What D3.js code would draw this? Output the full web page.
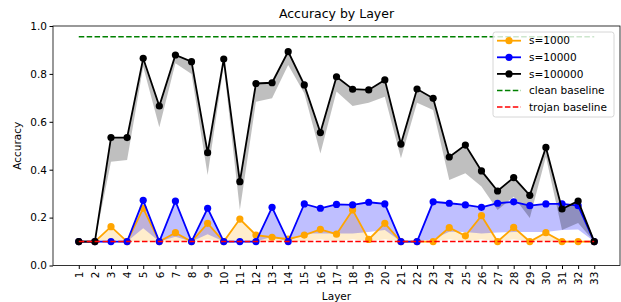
<!DOCTYPE html>
<html>
<head>
<meta charset="utf-8">
<script src="https://cdn.jsdelivr.net/npm/d3@7"></script>
<style>
  body { margin: 0; background: #fff; }
  text { font-family: "DejaVu Sans", sans-serif; fill: #000; }
</style>
</head>
<body>
<div id="chart-area"></div>
<script>
// layers 1..33
var layers = d3.range(1, 34);

// s=1000 (orange)
var s1000 = [0.10, 0.10, 0.162, 0.10, 0.239, 0.10, 0.137, 0.10, 0.176, 0.10, 0.194,
             0.127, 0.118, 0.11, 0.127, 0.151, 0.131, 0.232, 0.109, 0.176, 0.10, 0.10,
             0.10, 0.158, 0.124, 0.208, 0.10, 0.159, 0.10, 0.137, 0.10, 0.10, 0.10];
var s1000Lo = [0.10, 0.10, 0.11, 0.10, 0.10, 0.10, 0.10, 0.10, 0.11, 0.10, 0.11,
               0.10, 0.10, 0.10, 0.10, 0.11, 0.10, 0.11, 0.10, 0.11, 0.10, 0.10,
               0.10, 0.11, 0.10, 0.11, 0.10, 0.11, 0.10, 0.10, 0.10, 0.10, 0.10];

// s=10000 (blue)
var s10000 = [0.10, 0.10, 0.10, 0.10, 0.272, 0.10, 0.269, 0.10, 0.239, 0.10, 0.10,
              0.10, 0.243, 0.10, 0.257, 0.239, 0.255, 0.253, 0.264, 0.257, 0.10, 0.10,
              0.266, 0.26, 0.253, 0.243, 0.26, 0.266, 0.25, 0.257, 0.257, 0.25, 0.10];
var s10000Lo = [0.10, 0.10, 0.10, 0.10, 0.156, 0.10, 0.12, 0.10, 0.13, 0.10, 0.10,
                0.10, 0.12, 0.10, 0.134, 0.134, 0.134, 0.134, 0.14, 0.148, 0.10, 0.10,
                0.11, 0.141, 0.14, 0.134, 0.138, 0.14, 0.14, 0.14, 0.148, 0.15, 0.10];

// s=100000 (black)
var s100000 = [0.10, 0.10, 0.534, 0.534, 0.865, 0.666, 0.879, 0.851, 0.471, 0.862, 0.35,
               0.76, 0.763, 0.893, 0.754, 0.555, 0.788, 0.736, 0.733, 0.775, 0.507, 0.737,
               0.698, 0.453, 0.503, 0.395, 0.311, 0.367, 0.293, 0.493, 0.236, 0.269, 0.10];
var s100000Lo = [0.10, 0.10, 0.433, 0.44, 0.83, 0.577, 0.844, 0.80, 0.378, 0.835, 0.232,
                 0.684, 0.698, 0.837, 0.719, 0.468, 0.726, 0.666, 0.68, 0.705, 0.448, 0.68,
                 0.649, 0.357, 0.385, 0.33, 0.232, 0.287, 0.198, 0.454, 0.148, 0.177, 0.10];

var cleanBaseline = 0.955;
var trojanBaseline = 0.10;
var yTicks = [0.0, 0.2, 0.4, 0.6, 0.8, 1.0];

var series = [
  {name: "s=1000", color: "orange", fill: "rgba(255,165,0,0.2)", v: s1000, lo: s1000Lo},
  {name: "s=10000", color: "blue", fill: "rgba(0,0,255,0.25)", v: s10000, lo: s10000Lo},
  {name: "s=100000", color: "black", fill: "rgba(0,0,0,0.25)", v: s100000, lo: s100000Lo}
];

var W = 621, H = 302;
var mLeft = 53, mRight = 620, mTop = 26, mBottom = 265.5;

var svg = d3.select("#chart-area")
  .append("svg")
    .attr("width", W)
    .attr("height", H);

var x = d3.scaleLinear().domain([1 - 1.6, 33 + 1.6]).range([mLeft, mRight]);
var y = d3.scaleLinear().domain([0, 1]).range([mBottom, mTop]);

// bands first (matplotlib collections sit under lines)
series.forEach(function(s) {
  var area = d3.area()
    .x(function(d, i) { return x(layers[i]); })
    .y0(function(d, i) { return y(s.lo[i]); })
    .y1(function(d) { return y(d); });
  svg.append("path")
    .datum(s.v)
    .attr("d", area)
    .attr("fill", s.fill);
});

// lines + markers
series.forEach(function(s) {
  var line = d3.line()
    .x(function(d, i) { return x(layers[i]); })
    .y(function(d) { return y(d); });
  svg.append("path")
    .datum(s.v)
    .attr("d", line)
    .attr("fill", "none")
    .attr("stroke", s.color)
    .attr("stroke-width", 1.8);
  svg.append("g").selectAll("circle").data(s.v)
    .enter().append("circle")
      .attr("cx", function(d, i) { return x(layers[i]); })
      .attr("cy", function(d) { return y(d); })
      .attr("r", 3.6)
      .attr("fill", s.color);
});

// baselines
var baselines = [
  {name: "clean baseline", color: "green", v: cleanBaseline},
  {name: "trojan baseline", color: "red", v: trojanBaseline}
];
baselines.forEach(function(b) {
  svg.append("line")
    .attr("x1", x(1)).attr("x2", x(33))
    .attr("y1", y(b.v)).attr("y2", y(b.v))
    .attr("stroke", b.color)
    .attr("stroke-width", 1.5)
    .attr("stroke-dasharray", "5.5,2.4");
});

// frame
svg.append("rect")
  .attr("x", mLeft).attr("y", mTop)
  .attr("width", mRight - mLeft).attr("height", mBottom - mTop)
  .attr("fill", "none")
  .attr("stroke", "#000")
  .attr("stroke-width", 0.8);

// y axis
var yAxis = d3.axisLeft(y).tickValues(yTicks).tickFormat(d3.format(".1f")).tickSize(3.5).tickSizeOuter(0);
var gy = svg.append("g")
  .attr("transform", "translate(" + mLeft + ",0)")
  .call(yAxis);
gy.select(".domain").remove();
gy.selectAll("text").attr("font-size", "10.5px").attr("font-family", "DejaVu Sans").attr("x", -6);

// x axis
var xAxis = d3.axisBottom(x).tickValues(layers).tickFormat(d3.format("d")).tickSize(3.5).tickSizeOuter(0);
var gx = svg.append("g")
  .attr("transform", "translate(0," + mBottom + ")")
  .call(xAxis);
gx.select(".domain").remove();
gx.selectAll("text")
  .attr("font-size", "10.5px")
  .attr("font-family", "DejaVu Sans")
  .attr("text-anchor", "end")
  .attr("dy", "0.35em")
  .attr("y", 0)
  .attr("x", -6)
  .attr("transform", "rotate(-90)");

// labels
svg.append("text")
  .attr("x", (mLeft + mRight) / 2)
  .attr("y", 18)
  .attr("text-anchor", "middle")
  .attr("font-size", "12.5px")
  .text("Accuracy by Layer");

svg.append("text")
  .attr("x", (mLeft + mRight) / 2)
  .attr("y", 300)
  .attr("text-anchor", "middle")
  .attr("font-size", "10.5px")
  .text("Layer");

svg.append("text")
  .attr("transform", "translate(21," + ((mTop + mBottom) / 2) + ") rotate(-90)")
  .attr("text-anchor", "middle")
  .attr("font-size", "10.5px")
  .text("Accuracy");

// legend
var lg = svg.append("g").attr("transform", "translate(493,32)");
lg.append("rect")
  .attr("width", 121).attr("height", 85)
  .attr("rx", 2.5)
  .attr("fill", "rgba(255,255,255,0.8)")
  .attr("stroke", "#ccc")
  .attr("stroke-width", 0.8);
var entries = series.map(function(s) { return {name: s.name, color: s.color, marker: true}; })
  .concat(baselines.map(function(b) { return {name: b.name, color: b.color, marker: false}; }));
entries.forEach(function(e, i) {
  var yy = 8.7 + i * 16.6;
  var row = lg.append("g").attr("transform", "translate(0," + yy + ")");
  row.append("line")
    .attr("x1", 4).attr("x2", 28)
    .attr("stroke", e.color)
    .attr("stroke-width", e.marker ? 1.8 : 1.5)
    .attr("stroke-dasharray", e.marker ? null : "5.5,2.4");
  if (e.marker) {
    row.append("circle").attr("cx", 16).attr("r", 3.6).attr("fill", e.color);
  }
  row.append("text")
    .attr("x", 36)
    .attr("dy", "0.35em")
    .attr("font-size", "10.5px")
    .text(e.name);
});
</script>
</body>
</html>
